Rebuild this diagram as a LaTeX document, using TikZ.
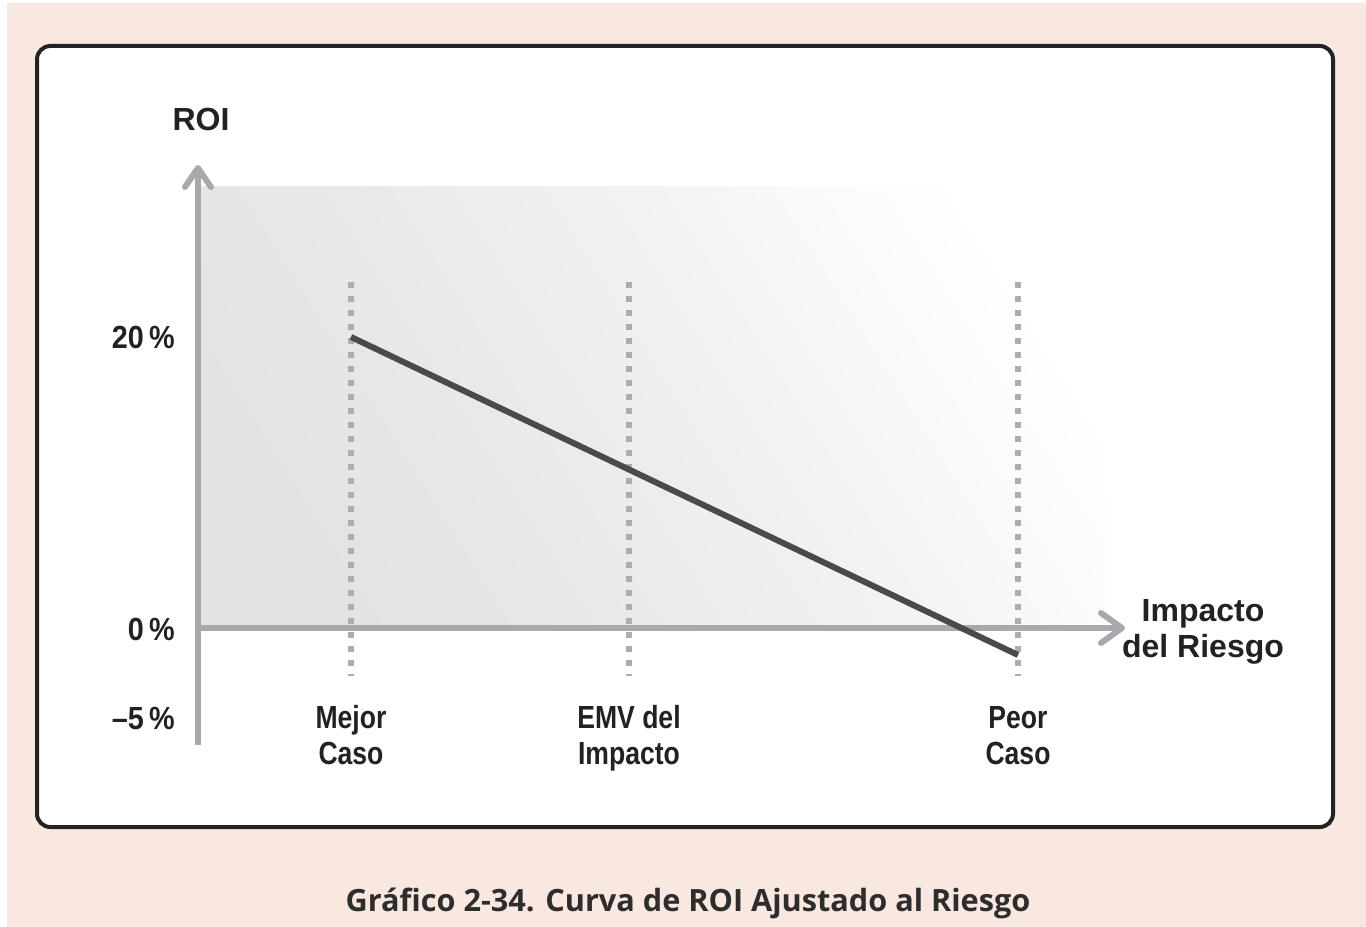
\documentclass[tikz,border=0pt]{standalone}
\usepackage{fontspec}
\usetikzlibrary{shadings}
\setmainfont{Liberation Sans}
\newfontfamily\cond[FakeStretch=0.83]{Liberation Sans}
\newfontfamily\semicond[FakeStretch=0.9]{Liberation Sans}
\newfontfamily\capfont{Open Sans}
\definecolor{bgpink}{HTML}{F9E8E0}
\definecolor{frame}{HTML}{232323}
\definecolor{axisgray}{HTML}{A8A9AD}
\definecolor{dashgray}{HTML}{ADADAF}
\definecolor{linegray}{HTML}{4A4A4D}
\definecolor{txt}{HTML}{222222}
\definecolor{shadeA}{HTML}{E3E3E6}
\definecolor{shadeB}{HTML}{E9E9EB}
\definecolor{shadeC}{HTML}{F3F3F4}
\definecolor{shadeD}{HTML}{FAFAFA}
\pgfdeclareverticalshading{roifade}{100bp}{color(0bp)=(shadeA); color(25bp)=(shadeA); color(40bp)=(shadeB); color(58bp)=(shadeC); color(67bp)=(shadeD); color(76bp)=(white); color(100bp)=(white)}
\tikzset{
  axisline/.style={draw=axisgray,line width=4.5pt},
  axistip/.style={draw=axisgray,line width=4.5pt,line cap=round,line join=round},
  guide/.style={draw=dashgray,line width=3.8pt,dash pattern=on 4.5pt off 6pt},
  dataline/.style={draw=linegray,line width=4.5pt},
  cond/.style={font=\cond\bfseries\fontsize{24}{27}\selectfont,text=txt,align=center,inner sep=0pt},
  pct/.style={font=\semicond\bfseries\fontsize{24}{27}\selectfont,text=txt,anchor=east,inner sep=0pt},
  heavy/.style={font=\bfseries\fontsize{24}{27}\selectfont,text=txt,align=center,inner sep=0pt},
}
\begin{document}
\begin{tikzpicture}[x=0.75pt,y=-0.75pt]
\useasboundingbox (0,0) rectangle (1366,927);
\fill[white] (0,0) rectangle (1366,927);
\fill[bgpink] (7,3) rectangle (1366,927);
% frame
\filldraw[fill=white,draw=frame,line width=3pt,rounded corners=10pt] (37,46) rectangle (1333,827);
% shaded area
\shade[shading=roifade,shading angle=-58] (200,187) rectangle (1105,628);
% coordinates
\coordinate (yb) at (198,745);
\coordinate (yt) at (198,168);
\coordinate (xl) at (198,628);
\coordinate (xr) at (1122,628);
\coordinate (best) at (351,337);
\coordinate (worst) at (1018,655);
% guides
\draw[guide] (351,282) -- (351,676);
\draw[guide] (629,282) -- (629,676);
\draw[guide] (1018,282) -- (1018,676);
% axes
\draw[axisline] (yb) -- (yt);
\draw[axistip] (185,187) -- (yt) -- (211,187);
\draw[axisline] (xl) -- (xr);
\draw[axistip] (1101,613) -- (xr) -- (1101,643);
% data line
\draw[dataline] (best) -- (worst);
% labels
\node[heavy] (roi) at (201,119) {ROI};
\node[heavy] (imp) at (1203,632) {Impacto\strut\\del Riesgo\strut};
\node[pct] (p20) at (175,337) {20\,\%};
\node[pct] (p0) at (175,629) {0\,\%};
\node[pct] (pm5) at (175,719) {\textendash5\,\%};
\node[cond] (mejor) at (351,739) {Mejor\strut\\Caso\strut};
\node[cond] (emv) at (629,739) {EMV del\strut\\Impacto\strut};
\node[cond] (peor) at (1018,739) {Peor\strut\\Caso\strut};
\node[font=\capfont\bfseries\fontsize{23}{27}\selectfont,text=txt!95,inner sep=0pt] (cap) at (688,903) {Gráfico 2-34. Curva de ROI Ajustado al Riesgo};
\end{tikzpicture}
\end{document}
